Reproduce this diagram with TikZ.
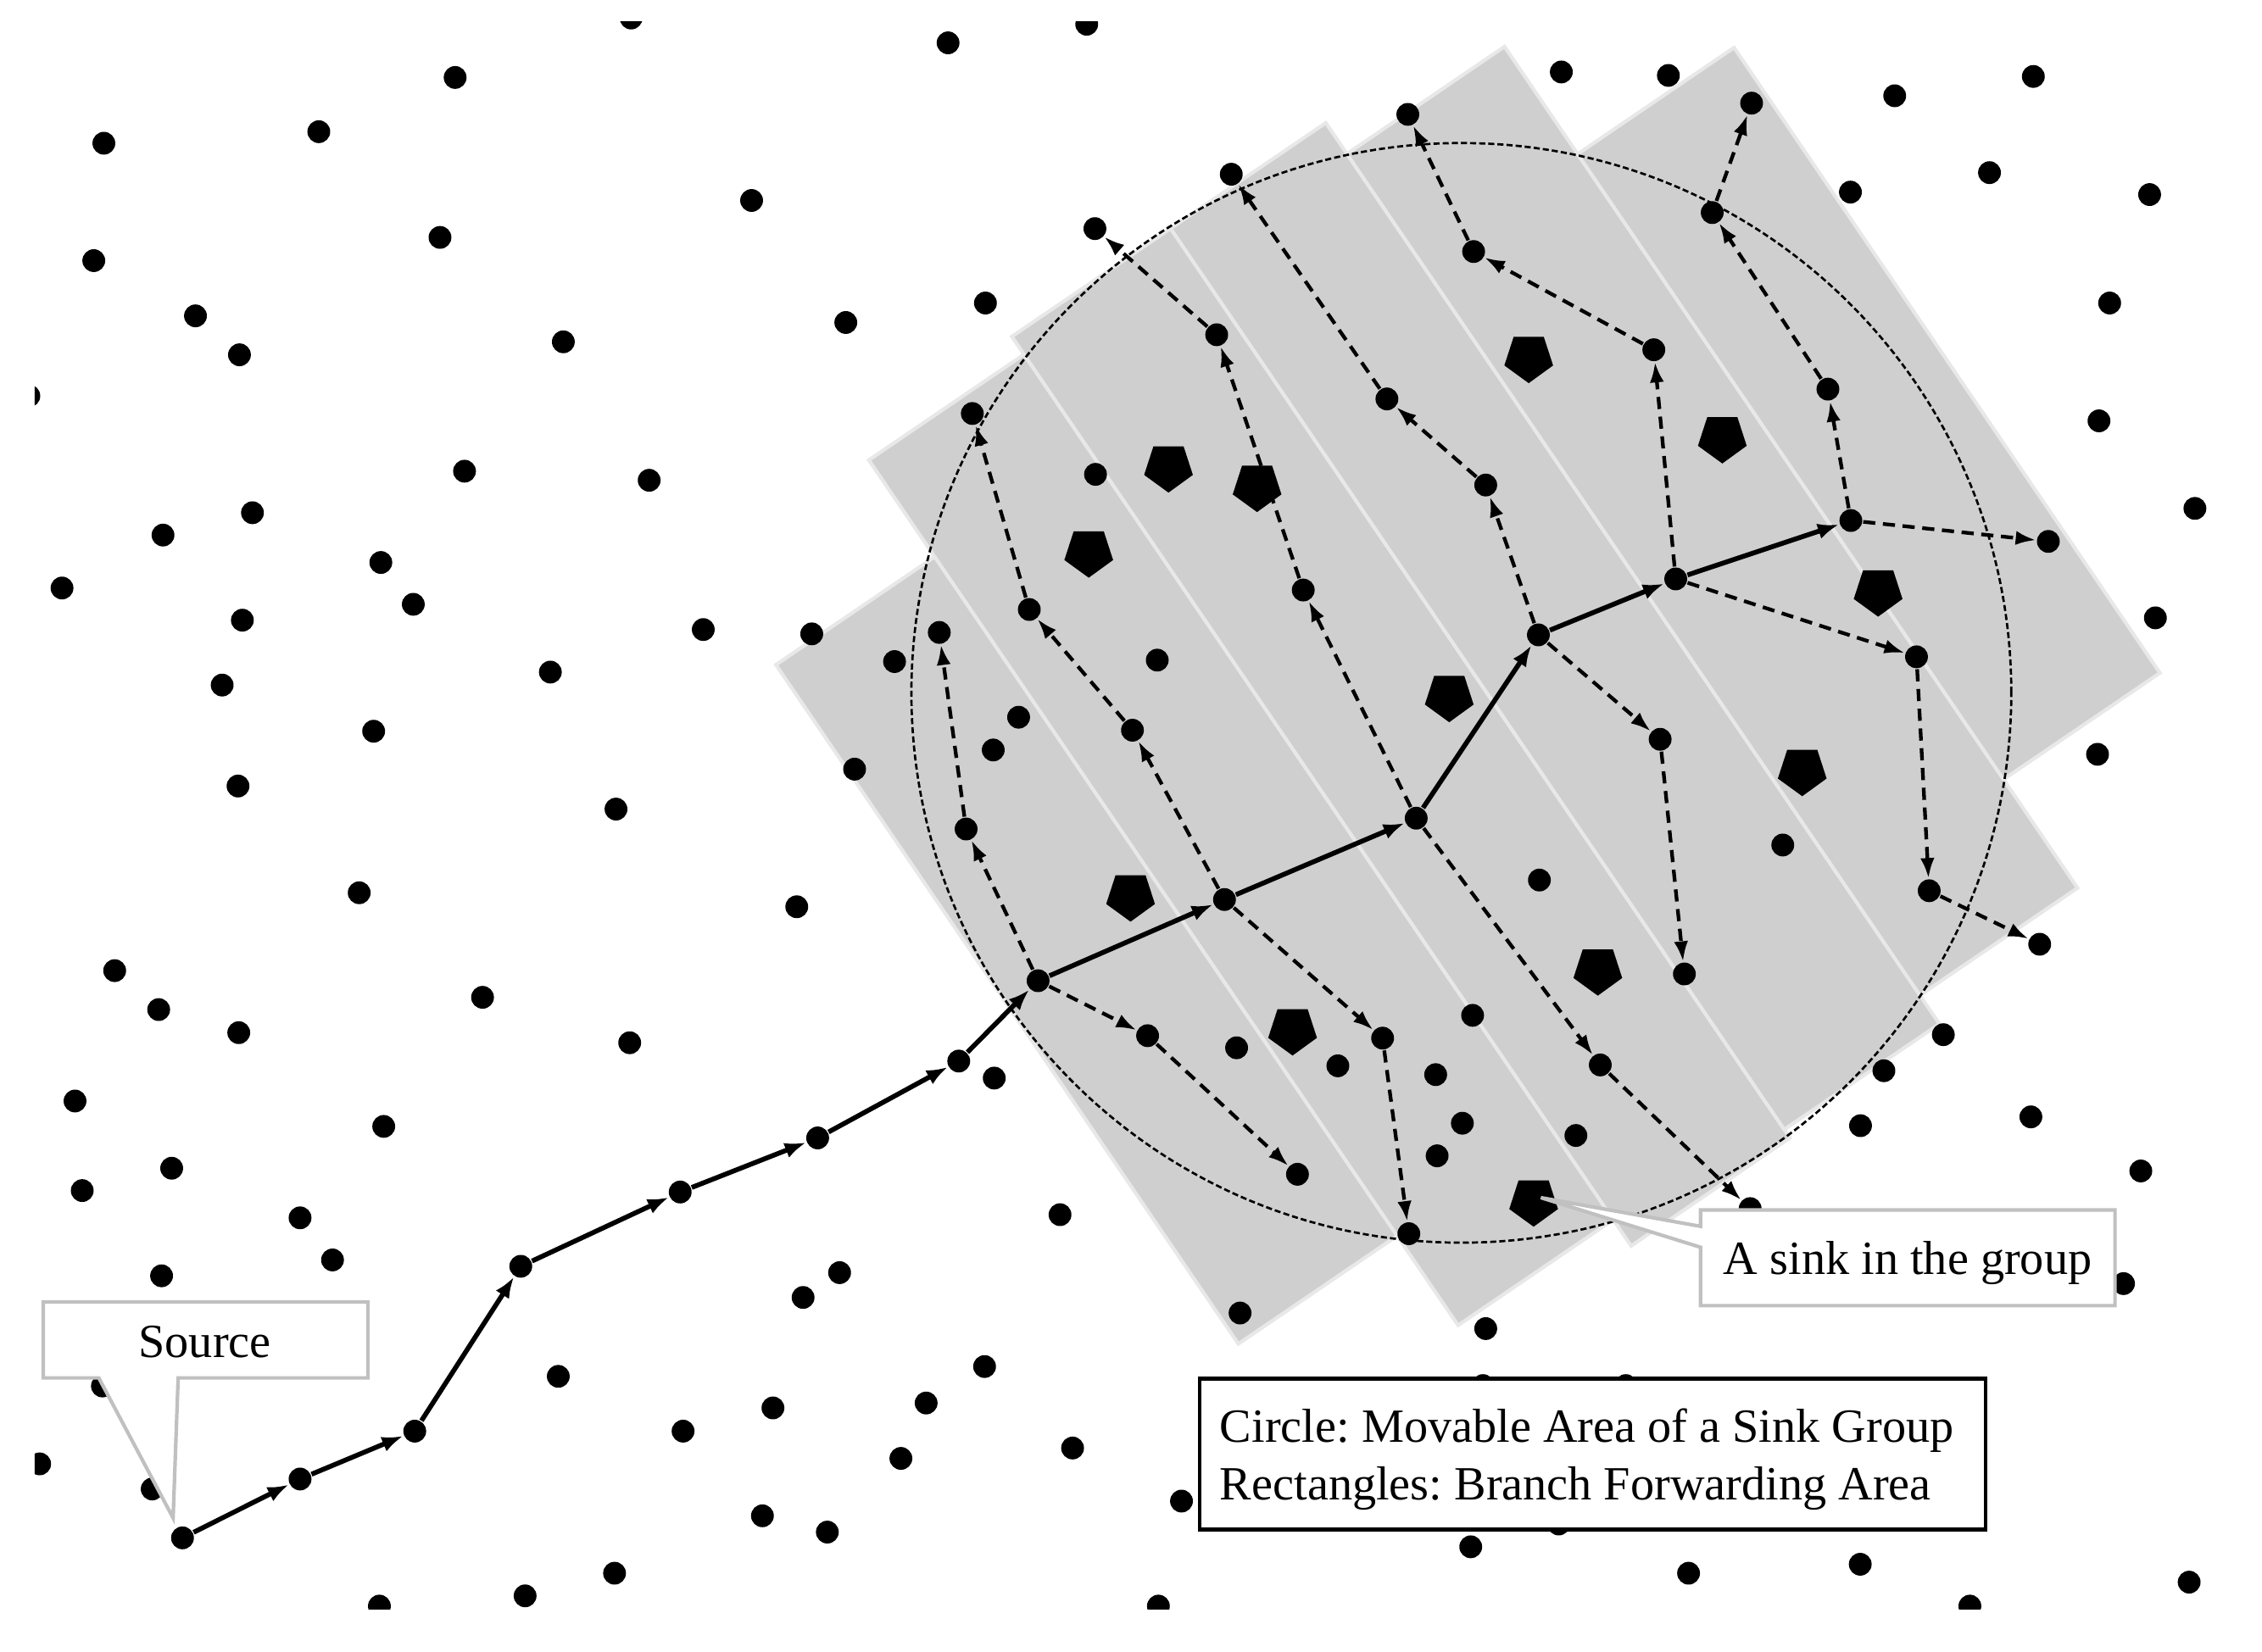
\documentclass[tikz,border=0pt]{standalone}
\usepackage{fontspec}
\setmainfont{Liberation Serif}
\usetikzlibrary{arrows.meta,shapes.geometric}
\definecolor{stripfill}{RGB}{208,207,208}
\definecolor{stripedge}{RGB}{232,232,232}
\definecolor{calloutedge}{RGB}{192,192,192}
\frenchspacing
\begin{document}
\begin{tikzpicture}[x=0.01cm,y=-0.01cm,
  netdot/.style={circle,fill=black,inner sep=0pt,minimum size=0.158cm},
  sinkshape/.style={regular polygon,regular polygon sides=5,shape border rotate=180,fill=black,inner sep=0pt,minimum size=0.355cm},
  stripshape/.style={fill=stripfill,draw=stripedge,line width=0.7pt,line join=miter},
  dasharr/.style={-{Latex[length=4pt,width=2.8pt]},line width=0.72pt,dash pattern=on 2.4pt off 1.5pt},
  solidarr/.style={-{Latex[length=4.2pt,width=3.1pt]},line width=0.95pt},
  movecircle/.style={draw=black,line width=0.45pt,dash pattern=on 1.2pt off 0.6pt},
  calloutshape/.style={fill=white,draw=calloutedge,line width=0.7pt,line join=miter},
  legendbox/.style={fill=white,draw=black,line width=0.7pt},
  lbl/.style={font=\fontsize{9.4pt}{11.3pt}\selectfont,inner sep=0pt}
]
\useasboundingbox (0,0) rectangle (1568,1145);

% branch forwarding rectangles (strips in rotated frame)
\begin{scope}[x={(0.008266cm,0.005628cm)},y={(0.005628cm,-0.008266cm)}]
  \filldraw[stripshape] (185,683) -- (318,683) -- (318,1252) -- (185,1252) -- cycle;
  \filldraw[stripshape] (318,602) -- (448,602) -- (448,1327) -- (318,1327) -- cycle;
  \filldraw[stripshape] (448,587) -- (581,587) -- (581,1349) -- (448,1349) -- cycle;
  \filldraw[stripshape] (581,587) -- (711,587) -- (711,1342) -- (581,1342) -- cycle;
  \filldraw[stripshape] (711,613) -- (843,613) -- (843,1318) -- (711,1318) -- cycle;
  \filldraw[stripshape] (843,703) -- (974,703) -- (974,1227) -- (843,1227) -- cycle;
\end{scope}

% movable area circle
\draw[movecircle] (1013,480.4) circle[radius=3.81cm];

% background sensor dots
\begin{scope}
\clip (24,15) rectangle (1548,1115.5);
\foreach \px/\py in {437.5/12.5,657.2/29.7,753.3/16.8,315.5/53.7,72/99.3,221/91.3,521/139,65/180.7,305/164.6,
  135.5/219,166/246,390.5/237,586.3/223.6,683.1/210.1,20/274.5,322/326.7,450/333,175/355.5,113/371,264/390,
  43/407.7,286.5/419,168/430,487.5/436.5,562.7/439.5,620.1/458.7,759.4/328.9,802.2/457.7,381.5/466,154/475,
  259/507,592.4/533.3,688.5/520,706.1/497.3,165/545,427/561,
  249/619,552.3/628.7,79.5/673,110/700,334.5/691.5,165.5/716,436.5/723,52/763.4,266/781,119/810,57/825.5,
  208/844.4,230.5/873.6,112/884.6,734.8/842.2,582/882.4,556.7/899.6,387/954.3,682.5/947.5,535.8/976.2,
  473.5/992.3,642/972.8,743.5/1004,624.5/1011.2,27.5/1015,71/961,105.5/1032.4,528.5/1051,573.5/1062.3,
  426/1090.8,364/1106.5,263/1113.6,689.2/747.5,
  1020.8/704,857.2/726.5,927.4/739,995.2/745.1,1013.7/778.8,996.2/801.4,1067.1/610.2,1235.8/585.9,
  1092.4/787.3,1305.9/742.4,1289.7/780.5,1347.1/717.4,1407.8/774.4,1484/811.9,859.6/910.4,1029.9/921.2,
  1082.3/49.9,1156.5/52.3,1313.4/66.4,1409.5/53,1282.7/133.2,1379.1/119.7,1490.1/134.9,1462.4/210.1,
  1455/291.8,1521.5/352.5,1494.1/428.4,1454/523,
  1472/890,1028/960.7,1127/960.7,819/1040.8,1080.5/1056.7,1019.5/1072.5,1170.5/1090.8,1289.5/1084.6,
  1517.5/1097,803/1113.6,1365.5/1113.6}
  \fill (\px,\py) circle[radius=0.079cm];
\end{scope}

% sinks
\foreach \px/\py [count=\k] in {810/323.8,871.4/337.3,754.7/382.8,1059.7/247.9,1193.9/303.6,1301.9/409.8,
  1004.6/483,1249.3/534.3,783.7/621.3,1107.6/672.6,896/714.1,1063.1/832.8}
  \node[sinkshape] (sink\k) at (\px,\py) {};

% routing nodes
\node[netdot] (S) at (126.5,1066.3) {};
\node[netdot] (p1) at (208,1025.5) {};
\node[netdot] (p2) at (287.5,992.3) {};
\node[netdot] (p3) at (361,878) {};
\node[netdot] (p4) at (471.5,826.5) {};
\node[netdot] (p5) at (566.8,789) {};
\node[netdot] (p6) at (664.6,735.7) {};
\node[netdot] (p7) at (719.6,680) {};
\node[netdot] (p8) at (848.8,623.7) {};
\node[netdot] (p9) at (981.7,567.3) {};
\node[netdot] (p10) at (1066.4,440.2) {};
\node[netdot] (p11) at (1161.6,401.4) {};
\node[netdot] (p12) at (1283,360.9) {};

\node[netdot] (a1) at (669.7,574.8) {};
\node[netdot] (a2) at (651.1,438.5) {};
\node[netdot] (b1) at (795.5,718.1) {};
\node[netdot] (b2) at (899.4,814.2) {};
\node[netdot] (c1) at (785,506.3) {};
\node[netdot] (c2) at (713.5,422.6) {};
\node[netdot] (c3) at (674,286.7) {};
\node[netdot] (d1) at (958.4,719.8) {};
\node[netdot] (d2) at (976.6,855.4) {};
\node[netdot] (e1) at (903.4,409.1) {};
\node[netdot] (e2) at (843.4,232.1) {};
\node[netdot] (e3) at (759,158.5) {};
\node[netdot] (f1) at (1109.3,738.4) {};
\node[netdot] (f2) at (1213.2,838) {};
\node[netdot] (g1) at (1029.9,336.3) {};
\node[netdot] (g2) at (961.4,276.6) {};
\node[netdot] (g3) at (853.5,120.8) {};
\node[netdot] (h1) at (1150.8,512.6) {};
\node[netdot] (h2) at (1167.6,675.3) {};
\node[netdot] (i1) at (1146.4,242.5) {};
\node[netdot] (i2) at (1021.5,174.4) {};
\node[netdot] (i3) at (975.9,79.3) {};
\node[netdot] (j1) at (1328.5,455.4) {};
\node[netdot] (j2) at (1337.3,617.6) {};
\node[netdot] (j3) at (1413.9,654.7) {};
\node[netdot] (k1) at (1267.1,269.8) {};
\node[netdot] (k2) at (1186.9,147.4) {};
\node[netdot] (k3) at (1214.2,71.5) {};
\node[netdot] (l1) at (1419.9,375.4) {};

% main path
\draw[solidarr] (S) -- (p1);
\draw[solidarr] (p1) -- (p2);
\draw[solidarr] (p2) -- (p3);
\draw[solidarr] (p3) -- (p4);
\draw[solidarr] (p4) -- (p5);
\draw[solidarr] (p5) -- (p6);
\draw[solidarr] (p6) -- (p7);
\draw[solidarr] (p7) -- (p8);
\draw[solidarr] (p8) -- (p9);
\draw[solidarr] (p9) -- (p10);
\draw[solidarr] (p10) -- (p11);
\draw[solidarr] (p11) -- (p12);

% branches
\draw[dasharr] (p7) -- (a1);
\draw[dasharr] (a1) -- (a2);
\draw[dasharr] (p7) -- (b1);
\draw[dasharr] (b1) -- (b2);
\draw[dasharr] (p8) -- (c1);
\draw[dasharr] (c1) -- (c2);
\draw[dasharr] (c2) -- (c3);
\draw[dasharr] (p8) -- (d1);
\draw[dasharr] (d1) -- (d2);
\draw[dasharr] (p9) -- (e1);
\draw[dasharr] (e1) -- (e2);
\draw[dasharr] (e2) -- (e3);
\draw[dasharr] (p9) -- (f1);
\draw[dasharr] (f1) -- (f2);
\draw[dasharr] (p10) -- (g1);
\draw[dasharr] (g1) -- (g2);
\draw[dasharr] (g2) -- (g3);
\draw[dasharr] (p10) -- (h1);
\draw[dasharr] (h1) -- (h2);
\draw[dasharr] (p11) -- (i1);
\draw[dasharr] (i1) -- (i2);
\draw[dasharr] (i2) -- (i3);
\draw[dasharr] (p11) -- (j1);
\draw[dasharr] (j1) -- (j2);
\draw[dasharr] (j2) -- (j3);
\draw[dasharr] (p12) -- (k1);
\draw[dasharr] (k1) -- (k2);
\draw[dasharr] (k2) -- (k3);
\draw[dasharr] (p12) -- (l1);

% callouts
\filldraw[calloutshape] (30,902.8) -- (255,902.8) -- (255,955.4) -- (123.5,955.4) -- (120,1052.5) -- (68.5,955.4) -- (30,955.4) -- cycle;
\node[lbl,anchor=base] (srclabel) at (142,941) {Source};

\filldraw[calloutshape] (1178.8,838.9) -- (1466.1,838.9) -- (1466.1,905.3) -- (1178.8,905.3) -- (1178.8,864.8) -- (1068.1,830.4) -- (1178.8,850.3) -- cycle;
\node[lbl,anchor=base] (sinklabel) at (1322.4,883.4) {A sink in the group};

% legend
\draw[legendbox] (831.6,955.9) rectangle (1376.5,1060.5);
\node[lbl,anchor=base west] (leg1) at (845,1000) {Circle: Movable Area of a Sink Group};
\node[lbl,anchor=base west] (leg2) at (845,1039.7) {Rectangles: Branch Forwarding Area};
\end{tikzpicture}
\end{document}
